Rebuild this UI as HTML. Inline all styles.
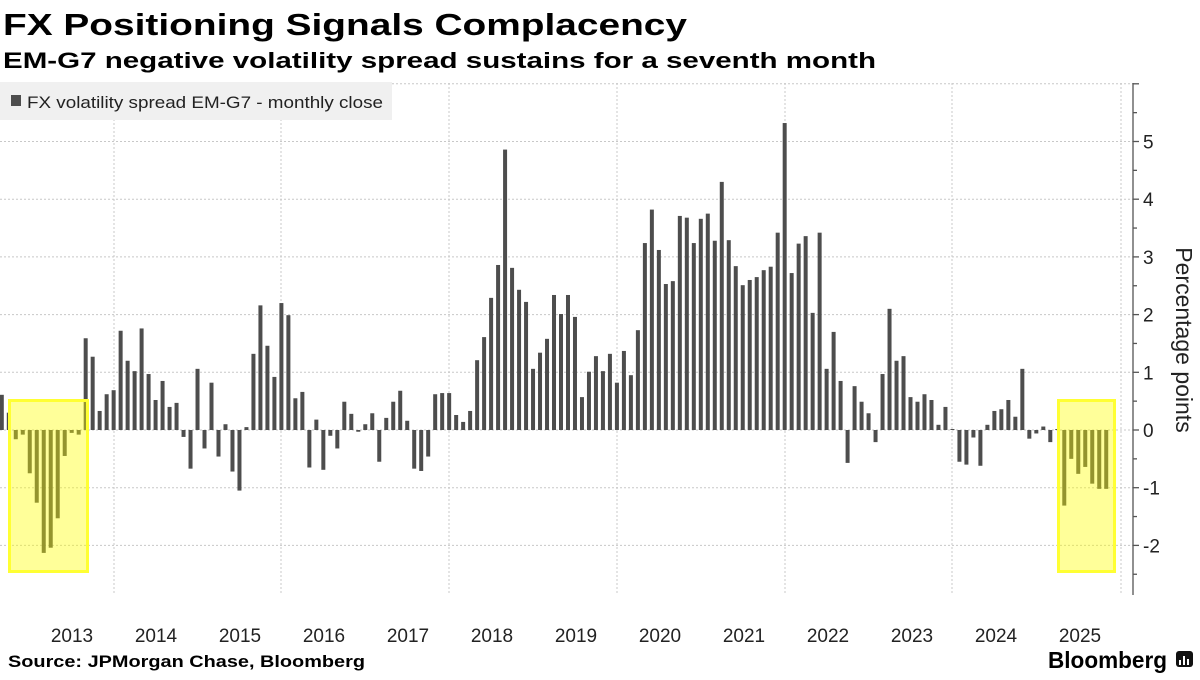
<!DOCTYPE html>
<html><head><meta charset="utf-8"><style>
html,body{margin:0;padding:0;background:#fff;}
body{width:1200px;height:675px;overflow:hidden;font-family:"Liberation Sans",sans-serif;}
</style></head><body>
<svg id="s" width="1200" height="675" xmlns="http://www.w3.org/2000/svg" font-family="Liberation Sans, sans-serif">
<text x="3" y="35" font-size="31" font-weight="bold" fill="#000" textLength="684" lengthAdjust="spacingAndGlyphs">FX Positioning Signals Complacency</text>
<text x="3" y="68" font-size="22" font-weight="bold" fill="#000" textLength="873" lengthAdjust="spacingAndGlyphs">EM-G7 negative volatility spread sustains for a seventh month</text>
<g id="grid" stroke="#c8c8c8" stroke-width="1" stroke-dasharray="2,2"></g>
<rect x="0" y="82" width="392" height="38" fill="#f0f0f0"/>
<rect x="11" y="95" width="10" height="11" fill="#4d4d4d"/>
<text x="27" y="108" font-size="17" fill="#222" textLength="356" lengthAdjust="spacingAndGlyphs">FX volatility spread EM-G7 - monthly close</text>
<g id="bars" fill="#4d4d4d"></g>
<rect x="9.5" y="400.5" width="78" height="171" fill="rgba(255,255,0,0.4)" stroke="#ffff33" stroke-width="3"/>
<rect x="1058.5" y="400.5" width="56" height="171" fill="rgba(255,255,0,0.4)" stroke="#ffff33" stroke-width="3"/>
<g id="axis" stroke="#555" stroke-width="1.3"></g>
<g id="ylab" font-size="19" fill="#222"></g>
<text transform="translate(1176,340) rotate(90)" text-anchor="middle" font-size="23" fill="#222">Percentage points</text>
<g id="xlab" font-size="19" fill="#222" text-anchor="middle"></g>
<text x="8" y="667" font-size="16.5" font-weight="bold" fill="#000" textLength="357" lengthAdjust="spacingAndGlyphs">Source: JPMorgan Chase, Bloomberg</text>
<text x="1048" y="668" font-size="23" font-weight="bold" fill="#000" textLength="119" lengthAdjust="spacingAndGlyphs">Bloomberg</text>
<rect x="1176" y="651" width="17" height="16" rx="3" fill="#111"/>
<rect x="1179" y="660" width="2" height="5" fill="#fff"/><rect x="1183" y="656" width="2" height="9" fill="#fff"/><rect x="1187" y="659" width="2" height="6" fill="#fff"/>
</svg>
<script>
var v=[0.61,0.30,-0.16,-0.08,-0.75,-1.26,-2.13,-2.04,-1.53,-0.45,-0.05,-0.08,1.59,1.27,0.33,0.62,0.69,1.72,1.20,1.02,1.76,0.97,0.52,0.85,0.40,0.47,-0.12,-0.67,1.06,-0.32,0.82,-0.46,0.10,-0.72,-1.05,0.05,1.32,2.16,1.46,0.92,2.20,1.99,
0.55,0.66,-0.65,0.18,-0.69,-0.10,-0.32,0.49,0.28,-0.03,0.10,0.29,-0.55,0.21,0.49,0.68,0.16,-0.67,-0.71,-0.46,0.62,0.64,0.64,0.26,0.14,0.33,1.21,1.61,2.29,2.86,4.86,2.81,2.43,2.22,1.06,1.34,1.58,2.34,2.01,2.34,
1.96,0.57,1.01,1.28,1.02,1.32,0.82,1.37,0.95,1.73,3.24,3.82,3.12,2.53,2.58,3.71,3.68,3.24,3.66,3.75,3.28,4.30,3.29,2.84,2.51,2.60,2.65,2.77,2.83,3.42,5.32,2.72,3.23,3.36,2.03,3.42,1.06,1.70,0.85,-0.57,
0.76,0.49,0.29,-0.21,0.97,2.10,1.20,1.28,0.57,0.49,0.62,0.52,0.09,0.40,0.01,-0.55,-0.60,-0.13,-0.62,0.09,0.33,0.36,0.52,0.23,1.06,-0.15,-0.06,0.06,-0.21,0.01,-1.31,-0.50,-0.76,-0.64,-0.93,-1.02,-1.02];
var NS="http://www.w3.org/2000/svg";
function el(p,t,a,txt){var e=document.createElementNS(NS,t);for(var k in a)e.setAttribute(k,a[k]);if(txt)e.textContent=txt;document.getElementById(p).appendChild(e);}
var Z=430,U=57.7;
for(var g=-2;g<=6;g++){var y=Z-U*g;el("grid","line",{x1:0,x2:1133,y1:y,y2:y});}
[114,281,449,617,785,952,1121].forEach(function(x){el("grid","line",{x1:x,x2:x,y1:83,y2:595});});
v.forEach(function(d,i){var x=1.8+6.99*i-2;var h=Math.abs(d)*U;if(h<1)h=1;el("bars","rect",{x:x,width:4,y:d>=0?Z-h:Z,height:h});});
el("axis","line",{x1:1133,x2:1133,y1:83,y2:595});
for(var t=-2.5;t<=6.01;t+=0.5){var y=Z-U*t;el("axis","line",{x1:1133,x2:t%1==0?1139:1137,y1:y,y2:y});
if(t%1==0&&t<=5)el("ylab","text",{x:1143,y:y+7},(t<0?"-":"")+Math.abs(t));}
for(var yr=2013;yr<=2025;yr++)el("xlab","text",{x:72+84*(yr-2013),y:642},""+yr);
</script>
</body></html>
